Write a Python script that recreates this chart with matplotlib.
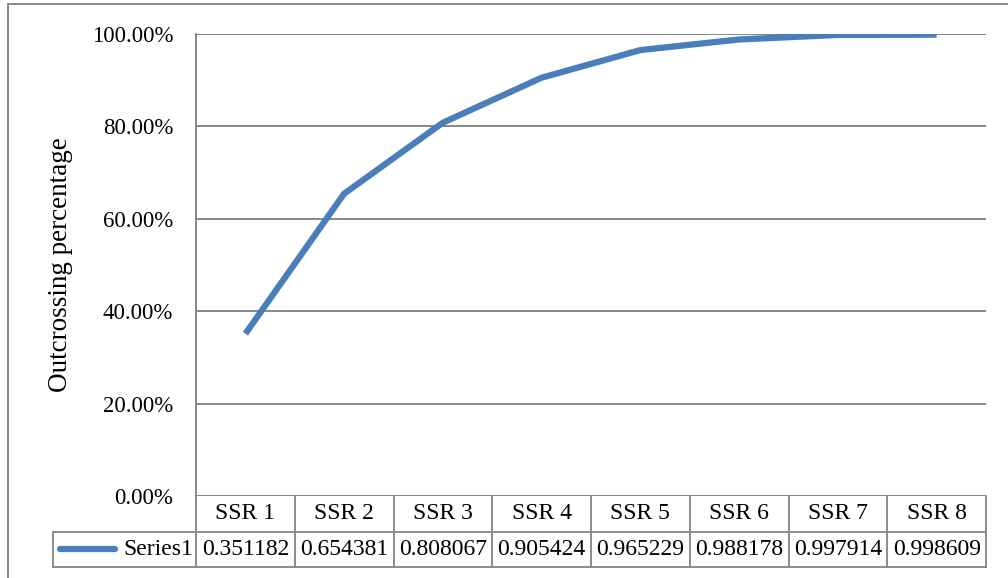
import matplotlib.pyplot as plt
from matplotlib.lines import Line2D
from matplotlib.ticker import PercentFormatter
import matplotlib.transforms as mtransforms

plt.rcParams['font.family'] = ['Liberation Serif', 'DejaVu Serif']

categories = ['SSR 1', 'SSR 2', 'SSR 3', 'SSR 4', 'SSR 5', 'SSR 6', 'SSR 7', 'SSR 8']
values = [0.351182, 0.654381, 0.808067, 0.905424, 0.965229, 0.988178, 0.997914, 0.998609]
series_name = 'Series1'
y_ticks = [0.0, 0.2, 0.4, 0.6, 0.8, 1.0]

W, H = 1008, 578
fig = plt.figure(figsize=(W / 100, H / 100), dpi=100)
ax = fig.add_axes([196 / W, 1 - 496 / H, 790 / W, 462 / H])

blue = '#4A7EBB'
grid_c = '#868686'
fs = 16.5
fs_tbl = 17

x = list(range(len(categories)))
ax.plot(x, values, color=blue, lw=4.5, solid_capstyle='butt', solid_joinstyle='round', zorder=3)

ax.set_xlim(-0.5, len(categories) - 0.5)
ax.set_ylim(0, 1)
ax.set_yticks(y_ticks)
ax.yaxis.set_major_formatter(PercentFormatter(1.0, decimals=2))
ax.tick_params(axis='y', length=0, pad=16.5, labelsize=fs)
ax.tick_params(axis='x', length=0, labelbottom=False)
ax.grid(axis='y', color=grid_c, lw=1.4)
for s in ['top', 'right', 'bottom']:
    ax.spines[s].set_visible(False)
ax.spines['left'].set_color(grid_c)
ax.spines['left'].set_linewidth(1.4)
ax.set_ylabel('Outcrossing percentage', fontsize=19.5)
ax.yaxis.set_label_coords(-0.156, 0.5)

# data table under the plot
trans = mtransforms.blended_transform_factory(ax.transData, ax.transAxes)
row_h = 35.5 / 462
tbl_c = '#8C8C8C'
lkw = dict(color=tbl_c, lw=1.4, clip_on=False, transform=trans)
x_lo, x_hi = -0.5, len(categories) - 0.5
ax.plot([x_lo, x_hi], [-row_h, -row_h], **lkw)
ax.plot([x_lo, x_hi], [-2 * row_h, -2 * row_h], **lkw)
ax.plot([x_hi, x_hi], [0, -2 * row_h], **lkw)
for i in range(len(categories)):
    ax.plot([i - 0.5, i - 0.5], [0, -2 * row_h], **lkw)
    ax.text(i, -0.5 * row_h, categories[i], transform=trans, ha='center', va='center', fontsize=fs_tbl)
    ax.text(i, -1.5 * row_h, f'{values[i]:.6f}', transform=trans, ha='center', va='center', fontsize=fs_tbl)

# legend cell on the left of the value row
leg_left = (53 - 196) / 790
akw = dict(color=tbl_c, lw=1.4, clip_on=False, transform=ax.transAxes)
ax.plot([leg_left, 0], [-row_h, -row_h], **akw)
ax.plot([leg_left, 0], [-2 * row_h, -2 * row_h], **akw)
ax.plot([leg_left, leg_left], [-row_h, -2 * row_h], **akw)
ax.plot([(60 - 196) / 790, (115 - 196) / 790], [-1.5 * row_h] * 2, color=blue, lw=4.5,
        solid_capstyle='round', clip_on=False, transform=ax.transAxes)
ax.text(-0.004, -1.5 * row_h, series_name, transform=ax.transAxes, ha='right', va='center', fontsize=fs_tbl)

# chart area border
fig.add_artist(Line2D([8 / W, 8 / W], [1 - 4 / H, 0], color=grid_c, lw=1.4, transform=fig.transFigure))
fig.add_artist(Line2D([8 / W, 1], [1 - 4 / H, 1 - 4 / H], color=grid_c, lw=1.4, transform=fig.transFigure))

fig.savefig('out.png', dpi=100)
